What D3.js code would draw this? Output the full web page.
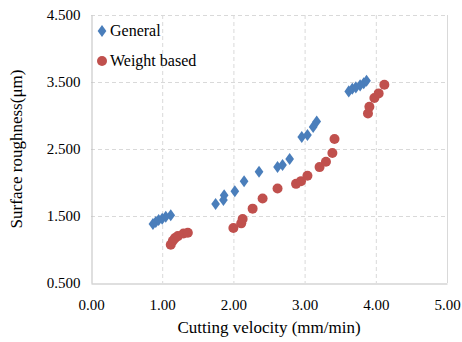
<!DOCTYPE html>
<html>
<head>
<meta charset="utf-8">
<script src="https://cdn.jsdelivr.net/npm/d3@7"></script>
<style>
  html, body { margin: 0; padding: 0; background: #fff; }
  svg { display: block; }
  text { font-family: "Liberation Serif", serif; }
</style>
</head>
<body>
<svg id="chart" width="462" height="342"></svg>
<script>
// ---- data ----
const generalX = [0.87, 0.91, 0.95, 1.00, 1.05, 1.12,
                  1.75, 1.86, 1.87, 2.02, 2.15, 2.36,
                  2.62, 2.69, 2.79,
                  2.96, 3.04, 3.12, 3.17,
                  3.62, 3.67, 3.72, 3.78, 3.83, 3.87];
const generalY = [1.38, 1.41, 1.44, 1.46, 1.49, 1.51,
                  1.68, 1.74, 1.81, 1.87, 2.02, 2.16,
                  2.23, 2.26, 2.35,
                  2.68, 2.71, 2.83, 2.91,
                  3.36, 3.40, 3.42, 3.45, 3.48, 3.52];
const weightX = [1.12, 1.15, 1.18, 1.22, 1.30, 1.36,
                 2.00, 2.11, 2.13, 2.27, 2.41,
                 2.62, 2.88, 2.95, 3.04,
                 3.21, 3.30, 3.39, 3.42,
                 3.89, 3.91, 3.98, 4.04, 4.12];
const weightY = [1.07, 1.13, 1.17, 1.20, 1.24, 1.25,
                 1.32, 1.39, 1.455, 1.61, 1.76,
                 1.91, 1.98, 2.02, 2.10,
                 2.23, 2.31, 2.44, 2.65,
                 3.03, 3.13, 3.26, 3.33, 3.46];
const xTicks = [0, 1, 2, 3, 4, 5];
const yTicks = [0.5, 1.5, 2.5, 3.5, 4.5];
const seriesNames = ["General", "Weight based"];
const xTitle = "Cutting velocity (mm/min)";
const yTitle = "Surface roughness(μm)";

// ---- layout ----
const FONT = "Liberation Serif";
const svg = d3.select("#chart");
const L = 91, R = 447, T = 15, B = 283;
const x = d3.scaleLinear().domain([0, 5]).range([L, R]);
const y = d3.scaleLinear().domain([0.5, 4.5]).range([B, T]);
const blue = "#4a7ebb", red = "#c0504d";

// gridlines
const grid = svg.append("g");
grid.selectAll("line.vx").data(xTicks.filter(d => d > 0 && d < 5)).join("line")
  .attr("x1", d => x(d) + 0.5).attr("x2", d => x(d) + 0.5).attr("y1", T).attr("y2", B)
  .attr("stroke", "#d9d9d9").attr("stroke-width", 1).attr("stroke-dasharray", "4,3");
grid.selectAll("line.hy").data(yTicks.filter(d => d > 0.5)).join("line")
  .attr("x1", L).attr("x2", R).attr("y1", d => y(d) + 0.5).attr("y2", d => y(d) + 0.5)
  .attr("stroke", "#d9d9d9").attr("stroke-width", 1).attr("stroke-dasharray", "4,3");
// right border
svg.append("line").attr("x1", R + 0.5).attr("x2", R + 0.5).attr("y1", T).attr("y2", B)
  .attr("stroke", "#d9d9d9");

// axes
const xAxis = svg.append("g").attr("transform", `translate(0,${B + 0.5})`)
  .call(d3.axisBottom(x).tickValues(xTicks).tickFormat(d3.format(".2f")).tickSize(0).tickPadding(16));
const yAxis = svg.append("g").attr("transform", `translate(${L + 0.5},0)`)
  .call(d3.axisLeft(y).tickValues(yTicks).tickFormat(d3.format(".3f")).tickSize(0).tickPadding(11));
[xAxis, yAxis].forEach(a => {
  a.attr("font-family", FONT);
  a.select(".domain").attr("stroke", "#bfbfbf");
  a.selectAll("text").attr("font-family", FONT).attr("font-size", 15).attr("fill", "#000");
});

// points
const diamond = d3.symbol().type(d3.symbolDiamond).size(42);
svg.append("g").selectAll("path").data(generalX.map((v, i) => [v, generalY[i]])).join("path")
  .attr("d", diamond)
  .attr("transform", d => `translate(${x(d[0])},${y(d[1])}) scale(1.25,1)`)
  .attr("fill", blue);
svg.append("g").selectAll("circle").data(weightX.map((v, i) => [v, weightY[i]])).join("circle")
  .attr("cx", d => x(d[0])).attr("cy", d => y(d[1])).attr("r", 5)
  .attr("fill", red);

// legend
const lg = svg.append("g").attr("font-family", FONT);
lg.append("path").attr("d", diamond).attr("transform", "translate(102,31) scale(1.25,1)").attr("fill", blue);
lg.append("text").attr("x", 110).attr("y", 36).text(seriesNames[0])
  .attr("font-family", FONT).attr("font-size", 16).attr("fill", "#000");
lg.append("circle").attr("cx", 102).attr("cy", 61).attr("r", 5).attr("fill", red);
lg.append("text").attr("x", 110).attr("y", 66).text(seriesNames[1])
  .attr("font-family", FONT).attr("font-size", 16).attr("fill", "#000");

// titles
svg.append("text").attr("x", (L + R) / 2).attr("y", 333).attr("text-anchor", "middle")
  .attr("font-family", FONT).attr("font-size", 17).attr("fill", "#000").text(xTitle);
svg.append("text").attr("transform", `translate(22,${(T + B) / 2}) rotate(-90)`)
  .attr("text-anchor", "middle").attr("font-family", FONT).attr("font-size", 17).attr("fill", "#000").text(yTitle);
</script>
</body>
</html>
